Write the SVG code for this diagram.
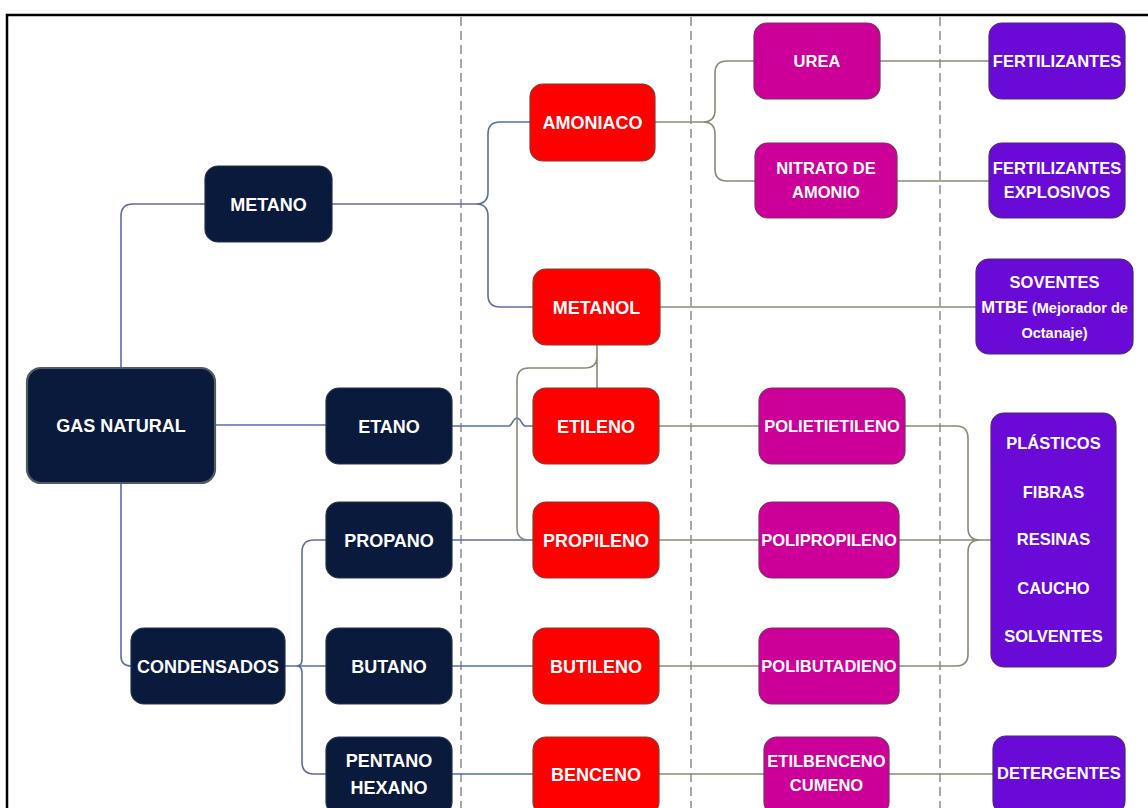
<svg xmlns="http://www.w3.org/2000/svg" width="1148" height="808" viewBox="0 0 1148 808">
<style>
.n{fill:#0a1a3d;stroke:#27324a;stroke-width:1.2}
.g{fill:#0a1a3d;stroke:#4f5b5e;stroke-width:2.2}
.r{fill:#ff0000;stroke:#8a3a2c;stroke-width:1.2}
.m{fill:#cc0099;stroke:#7c2f62;stroke-width:1.2}
.p{fill:#6a0ad6;stroke:#4b2c70;stroke-width:1.2}
text{font-family:"Liberation Sans",Arial,sans-serif;font-weight:bold;fill:#fff;text-anchor:middle}
.t18{font-size:18px}
.t16{font-size:16.5px}
.t14{font-size:14.5px}
.blue{fill:none;stroke:#5a6ea4;stroke-width:1.6}
.olive{fill:none;stroke:#878c72;stroke-width:1.6}
.dash{fill:none;stroke:#7a7a7a;stroke-width:1.3;stroke-dasharray:9 5}
</style>
<rect x="0" y="0" width="1148" height="808" fill="#fff"/>
<path d="M7,808 V15 H1148" fill="none" stroke="#000" stroke-width="2.5"/>
<g id="dividers">
<line class="dash" x1="461" y1="17" x2="461" y2="808"/>
<line class="dash" x1="691" y1="17" x2="691" y2="808"/>
<line class="dash" x1="940" y1="17" x2="940" y2="808"/>
</g>
<g id="connectors">
<path class="blue" d="M121,368 V216 Q121,204 133,204 H205"/>
<path class="blue" d="M215,425 H326"/>
<path class="blue" d="M121,483 V656 Q121,666 131,666"/>
<path class="blue" d="M332,204 H476 Q488,204 488,192 V134 Q488,122 500,122 H530 M476,204 Q488,204 488,216 V295 Q488,307 500,307 H533"/>
<path class="blue" d="M452,426 H509 C512,426 513,418 517,418 C521,418 522,426 525,426 H533"/>
<path class="blue" d="M285,666 H326 M296,666 Q302,666 302,660 V552 Q302,540 314,540 H326 M296,666 Q302,666 302,672 V762 Q302,774 314,774 H326"/>
<path class="blue" d="M452,540 H533 M452,666 H533 M452,774 H533"/>
<path class="olive" d="M597,345 V388 M597,356 Q597,368 585,368 H529 Q517,368 517,380 V528 Q517,540 529,540 H533"/>
<path class="olive" d="M655,122 H703 Q715,122 715,110 V73 Q715,61 727,61 H754 M703,122 Q715,122 715,134 V169 Q715,181 727,181 H755"/>
<path class="olive" d="M880,61 H989 M897,181 H989 M660,307 H976"/>
<path class="olive" d="M659,426 H759 M659,540 H759 M659,666 H759 M659,774 H764 M889,774 H993"/>
<path class="olive" d="M905,426 H956 Q968,426 968,438 V528 Q968,540 980,540 H991 M899,540 H991 M899,666 H956 Q968,666 968,654 V552 Q968,540 980,540"/>
</g>
<g id="gas-natural"><rect class="g" x="27" y="368" width="188" height="115" rx="14"/><text class="t18" x="121" y="431.5">GAS NATURAL</text></g>
<g id="metano"><rect class="n" x="205" y="166" width="127" height="76" rx="13"/><text class="t18" x="268.5" y="210.5">METANO</text></g>
<g id="etano"><rect class="n" x="326" y="388" width="126" height="76" rx="13"/><text class="t18" x="389" y="432.5">ETANO</text></g>
<g id="propano"><rect class="n" x="326" y="502" width="126" height="76" rx="13"/><text class="t18" x="389" y="546.5">PROPANO</text></g>
<g id="condensados"><rect class="n" x="131" y="628" width="154" height="76" rx="13"/><text class="t18" x="208" y="672.5">CONDENSADOS</text></g>
<g id="butano"><rect class="n" x="326" y="628" width="126" height="76" rx="13"/><text class="t18" x="389" y="672.5">BUTANO</text></g>
<g id="pentano-hexano"><rect class="n" x="326" y="737" width="126" height="78" rx="13"/><text class="t18" x="389" y="766.5">PENTANO</text><text class="t18" x="389" y="793.5">HEXANO</text></g>
<g id="amoniaco"><rect class="r" x="530" y="84" width="125" height="77" rx="13"/><text class="t18" x="592.5" y="128.5">AMONIACO</text></g>
<g id="metanol"><rect class="r" x="533" y="269" width="127" height="76" rx="13"/><text class="t18" x="596.5" y="313.5">METANOL</text></g>
<g id="etileno"><rect class="r" x="533" y="388" width="126" height="76" rx="13"/><text class="t18" x="596" y="432.5">ETILENO</text></g>
<g id="propileno"><rect class="r" x="533" y="502" width="126" height="76" rx="13"/><text class="t18" x="596" y="546.5">PROPILENO</text></g>
<g id="butileno"><rect class="r" x="533" y="628" width="126" height="76" rx="13"/><text class="t18" x="596" y="672.5">BUTILENO</text></g>
<g id="benceno"><rect class="r" x="533" y="737" width="126" height="78" rx="13"/><text class="t18" x="596" y="780.5">BENCENO</text></g>
<g id="urea"><rect class="m" x="754" y="23" width="126" height="76" rx="13"/><text class="t16" x="817" y="67">UREA</text></g>
<g id="nitrato"><rect class="m" x="755" y="143" width="142" height="75" rx="13"/><text class="t16" x="826" y="174">NITRATO DE</text><text class="t16" x="826" y="198">AMONIO</text></g>
<g id="polietietileno"><rect class="m" x="759" y="388" width="146" height="76" rx="13"/><text class="t16" x="832" y="432">POLIETIETILENO</text></g>
<g id="polipropileno"><rect class="m" x="759" y="502" width="140" height="76" rx="13"/><text class="t16" x="829" y="546">POLIPROPILENO</text></g>
<g id="polibutadieno"><rect class="m" x="759" y="628" width="140" height="76" rx="13"/><text class="t16" x="829" y="672">POLIBUTADIENO</text></g>
<g id="etilbenceno"><rect class="m" x="764" y="737" width="125" height="78" rx="13"/><text class="t16" x="826.5" y="767">ETILBENCENO</text><text class="t16" x="826.5" y="791">CUMENO</text></g>
<g id="fertilizantes"><rect class="p" x="989" y="23" width="136" height="76" rx="13"/><text class="t16" x="1057" y="67">FERTILIZANTES</text></g>
<g id="fertilizantes-explosivos"><rect class="p" x="989" y="143" width="136" height="75" rx="13"/><text class="t16" x="1057" y="174">FERTILIZANTES</text><text class="t16" x="1057" y="198">EXPLOSIVOS</text></g>
<g id="soventes"><rect class="p" x="976" y="259" width="157" height="95" rx="13"/><text class="t16" x="1054.5" y="288">SOVENTES</text><text x="1054.5" y="313"><tspan class="t16">MTBE</tspan><tspan class="t14"> (Mejorador de</tspan></text><text class="t14" x="1054.5" y="338">Octanaje)</text></g>
<g id="plasticos"><rect class="p" x="991" y="413" width="125" height="254" rx="13"/><text class="t16" x="1053.5" y="449">PLÁSTICOS</text><text class="t16" x="1053.5" y="498">FIBRAS</text><text class="t16" x="1053.5" y="545">RESINAS</text><text class="t16" x="1053.5" y="594">CAUCHO</text><text class="t16" x="1053.5" y="642">SOLVENTES</text></g>
<g id="detergentes"><rect class="p" x="993" y="736" width="132" height="78" rx="13"/><text class="t16" x="1059" y="779">DETERGENTES</text></g>
</svg>
